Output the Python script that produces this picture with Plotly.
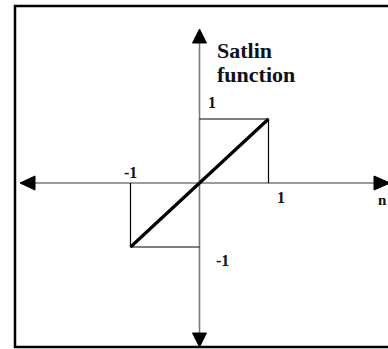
import plotly.graph_objects as go

# ---- data ----
satlin_x = [-1, 0, 1]
satlin_y = [-1, 0, 1]
guide_pos_x = [1, 1, 0]
guide_pos_y = [0, 1, 1]
guide_neg_x = [-1, -1, 0]
guide_neg_y = [0, -1, -1]
title_lines = ["Satlin", "function"]
tick_labels = ["1", "-1", "1", "-1"]
axis_label = "n"

# ---- layout constants (pixels) ----
W, H = 388, 349
ORIGIN_PX = (199.5, 183.0)
PX_PER_X = 69.0
PX_PER_Y = 64.0

def dx(px):
    return (px - ORIGIN_PX[0]) / PX_PER_X

def dy(py):
    return (ORIGIN_PX[1] - py) / PX_PER_Y

x_range = [dx(0), dx(W)]
y_range = [dy(H), dy(0)]

AXIS_COLOR = "#7a7a7a"
TEXT_COLOR = "#0f0f1e"
FONT = "Liberation Serif"

fig = go.Figure()

# axis lines
h_left, h_right = dx(35), dx(374)
v_top, v_bot = dy(43), dy(333)
fig.add_trace(go.Scatter(x=[h_left, h_right], y=[0, 0], mode="lines",
                         line=dict(color=AXIS_COLOR, width=1.6), hoverinfo="skip"))
fig.add_trace(go.Scatter(x=[0, 0], y=[v_bot, v_top], mode="lines",
                         line=dict(color=AXIS_COLOR, width=1.6), hoverinfo="skip"))

# arrowheads (filled triangles)
hw_x = 7 / PX_PER_X
hw_y = 7 / PX_PER_Y
tri = [
    ([-hw_x, hw_x, 0, -hw_x], [v_top, v_top, dy(29), v_top]),          # up
    ([-hw_x, hw_x, 0, -hw_x], [v_bot, v_bot, dy(347), v_bot]),          # down
    ([h_left, h_left, dx(20), h_left], [-hw_y, hw_y, 0, -hw_y]),        # left
    ([h_right, h_right, dx(390), h_right], [-hw_y, hw_y, 0, -hw_y]),    # right
]
for tx, ty in tri:
    fig.add_trace(go.Scatter(x=tx, y=ty, mode="lines", fill="toself",
                             fillcolor="black", line=dict(color="black", width=1),
                             hoverinfo="skip"))

# guide boxes
fig.add_trace(go.Scatter(x=guide_pos_x, y=guide_pos_y, mode="lines",
                         line=dict(color="black", width=1.2), hoverinfo="skip"))
fig.add_trace(go.Scatter(x=guide_neg_x, y=guide_neg_y, mode="lines",
                         line=dict(color="black", width=1.2), hoverinfo="skip"))

# satlin diagonal
fig.add_trace(go.Scatter(x=satlin_x, y=satlin_y, mode="lines",
                         line=dict(color="black", width=3.2), hoverinfo="skip"))

# texts
ann = []
ann.append(dict(x=dx(215), y=dy(50), text="<b>%s</b>" % title_lines[0],
                xanchor="left", yanchor="middle", showarrow=False,
                font=dict(family=FONT, size=22, color=TEXT_COLOR)))
ann.append(dict(x=dx(215), y=dy(74), text="<b>%s</b>" % title_lines[1],
                xanchor="left", yanchor="middle", showarrow=False,
                font=dict(family=FONT, size=22, color=TEXT_COLOR)))
label_pos = [(212, 102), (130.5, 172), (281, 197.5), (222.5, 260.5)]
for lbl, (px, py) in zip(tick_labels, label_pos):
    ann.append(dict(x=dx(px), y=dy(py), text="<b>%s</b>" % lbl,
                    xanchor="center", yanchor="middle", showarrow=False,
                    font=dict(family=FONT, size=16, color=TEXT_COLOR)))
ann.append(dict(x=dx(382), y=dy(200), text="<b>%s</b>" % axis_label,
                xanchor="center", yanchor="middle", showarrow=False,
                font=dict(family=FONT, size=15, color=TEXT_COLOR)))

# frame border
shapes = [dict(type="rect", xref="paper", yref="paper",
               x0=15 / W, x1=1.2, y0=1 - 347 / H, y1=1 - 6 / H,
               line=dict(color="black", width=2.5))]

fig.update_layout(
    width=W, height=H, autosize=False,
    margin=dict(l=0, r=0, t=0, b=0),
    paper_bgcolor="white", plot_bgcolor="white",
    showlegend=False,
    xaxis=dict(range=x_range, visible=False, fixedrange=True),
    yaxis=dict(range=y_range, visible=False, fixedrange=True),
    annotations=ann, shapes=shapes,
)

fig.write_html("out.html",
               config={"displayModeBar": False},
               post_script="document.body.style.margin='0';document.body.style.overflow='hidden';")
